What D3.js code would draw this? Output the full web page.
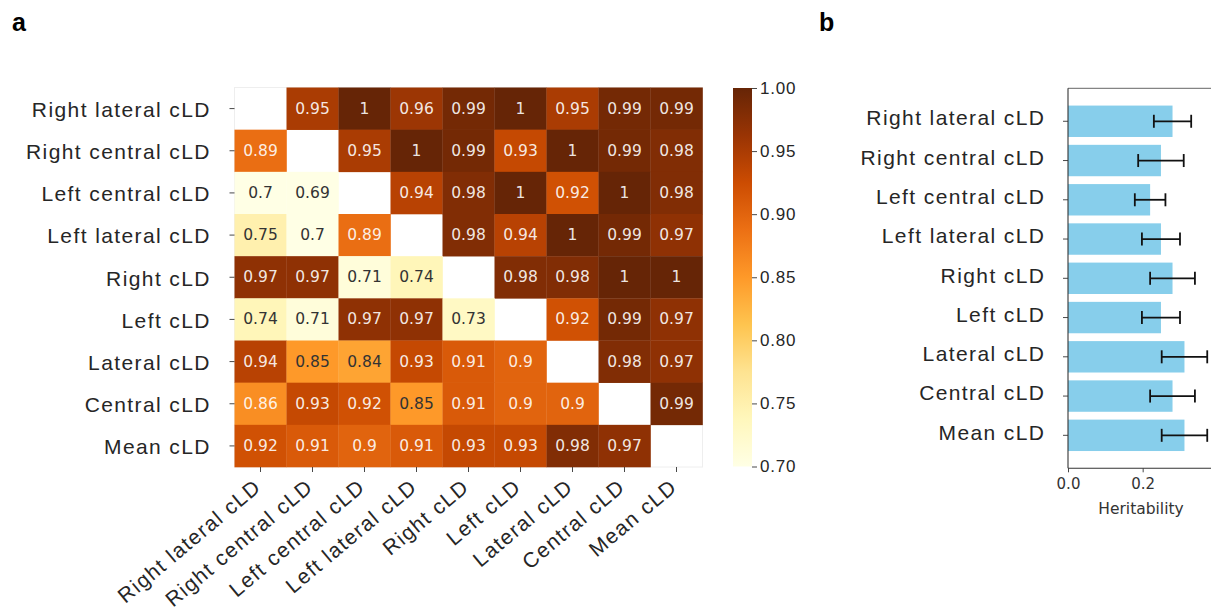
<!DOCTYPE html>
<html>
<head>
<meta charset="utf-8">
<script src="https://cdn.jsdelivr.net/npm/d3@7"></script>
<style>
  html, body { margin: 0; padding: 0; background: #fff; }
  svg { display: block; }
</style>
</head>
<body>
<svg id="chart" width="1211" height="612"></svg>
<script>
// ---------------- DATA ----------------
const categories = ["Right lateral cLD", "Right central cLD", "Left central cLD", "Left lateral cLD",
  "Right cLD", "Left cLD", "Lateral cLD", "Central cLD", "Mean cLD"];

// correlation matrix (rows top->bottom, columns left->right); null = diagonal (blank)
const corrRightLateral  = [null, 0.95, 1,    0.96, 0.99, 1,    0.95, 0.99, 0.99];
const corrRightCentral  = [0.89, null, 0.95, 1,    0.99, 0.93, 1,    0.99, 0.98];
const corrLeftCentral   = [0.7,  0.69, null, 0.94, 0.98, 1,    0.92, 1,    0.98];
const corrLeftLateral   = [0.75, 0.7,  0.89, null, 0.98, 0.94, 1,    0.99, 0.97];
const corrRight         = [0.97, 0.97, 0.71, 0.74, null, 0.98, 0.98, 1,    1   ];
const corrLeft          = [0.74, 0.71, 0.97, 0.97, 0.73, null, 0.92, 0.99, 0.97];
const corrLateral       = [0.94, 0.85, 0.84, 0.93, 0.91, 0.9,  null, 0.98, 0.97];
const corrCentral       = [0.86, 0.93, 0.92, 0.85, 0.91, 0.9,  0.9,  null, 0.99];
const corrMean          = [0.92, 0.91, 0.9,  0.91, 0.93, 0.93, 0.98, 0.97, null];
const corrRows = [corrRightLateral, corrRightCentral, corrLeftCentral, corrLeftLateral,
  corrRight, corrLeft, corrLateral, corrCentral, corrMean];

const colorbarTicks = [0.70, 0.75, 0.80, 0.85, 0.90, 0.95, 1.00];
const colorDomain = [0.7, 1.0];
const ylorbr = ["#ffffe5","#fff7bc","#fee391","#fec44f","#fe9929","#ec7014","#cc4c02","#993404","#662506"];

// heritability (panel b)
const heritability = [0.280, 0.249, 0.220, 0.249, 0.280, 0.249, 0.312, 0.280, 0.312];
const heritErr     = [0.050, 0.061, 0.041, 0.051, 0.060, 0.051, 0.061, 0.060, 0.061];
const heritTicks = [0.0, 0.2];

// ---------------- DRAW ----------------
const svg = d3.select("#chart");
const labelFont = "'Liberation Sans', Arial, Helvetica, sans-serif";
const numFont = "'DejaVu Sans', sans-serif";
const textCol = "#262626";

// panel labels
svg.append("text").attr("x", 12).attr("y", 31).text("a")
  .attr("font-family", labelFont).attr("font-weight", "bold").attr("font-size", 25).attr("fill", "#000");
svg.append("text").attr("x", 819).attr("y", 31).text("b")
  .attr("font-family", labelFont).attr("font-weight", "bold").attr("font-size", 25).attr("fill", "#000");

// ---- Heatmap ----
const hx = d3.scaleBand().domain(categories).range([234.5, 702.5]);
const hy = d3.scaleBand().domain(categories).range([87.5, 467]);
const stops = ylorbr.map((c, i) => colorDomain[0] + (colorDomain[1] - colorDomain[0]) * i / (ylorbr.length - 1));
const color = d3.scaleLinear().domain(stops).range(ylorbr).interpolate(d3.interpolateRgb).clamp(true);

function relLum(c) {
  const rgb = d3.rgb(c);
  const f = v => { v /= 255; return v <= 0.03928 ? v / 12.92 : Math.pow((v + 0.055) / 1.055, 2.4); };
  return 0.2126 * f(rgb.r) + 0.7152 * f(rgb.g) + 0.0722 * f(rgb.b);
}

const cells = [];
corrRows.forEach((row, i) => row.forEach((v, j) => {
  if (v !== null) cells.push({ r: categories[i], c: categories[j], v });
}));

const hm = svg.append("g");
hm.append("rect").attr("x", hx.range()[0]).attr("y", hy.range()[0])
  .attr("width", hx.range()[1] - hx.range()[0]).attr("height", hy.range()[1] - hy.range()[0])
  .attr("fill", "#fff").attr("stroke", "#eeeeee").attr("stroke-width", 1);

hm.selectAll("rect.cell").data(cells).join("rect").attr("class", "cell")
  .attr("x", d => hx(d.c)).attr("y", d => hy(d.r))
  .attr("width", hx.bandwidth() + 0.3).attr("height", hy.bandwidth() + 0.3)
  .attr("fill", d => color(d.v));

hm.selectAll("text.ann").data(cells).join("text").attr("class", "ann")
  .attr("x", d => hx(d.c) + hx.bandwidth() / 2)
  .attr("y", d => hy(d.r) + hy.bandwidth() / 2)
  .attr("text-anchor", "middle").attr("dominant-baseline", "central")
  .attr("font-family", numFont).attr("font-size", 15.5)
  .attr("fill", d => relLum(color(d.v)) > 0.408 ? "#333333" : "#ffffff")
  .attr("fill-opacity", d => relLum(color(d.v)) > 0.408 ? 1 : 0.9)
  .text(d => d3.format("")(d.v));

// y axis (heatmap)
const hyAxis = svg.append("g").attr("transform", `translate(${hx.range()[0]},0)`)
  .call(d3.axisLeft(hy).tickSize(5).tickPadding(20));
hyAxis.select(".domain").remove();
hyAxis.selectAll(".tick line").attr("stroke", "#333").attr("stroke-width", 0.9);
hyAxis.selectAll(".tick text").attr("font-family", labelFont).attr("font-size", 21)
  .attr("letter-spacing", "1.4px").attr("fill", textCol).attr("dx", "1.4").attr("dy", "0.4em");

// x axis (heatmap)
const hxAxis = svg.append("g").attr("transform", `translate(0,${hy.range()[1]})`)
  .call(d3.axisBottom(hx).tickSize(5));
hxAxis.select(".domain").remove();
hxAxis.selectAll(".tick line").attr("stroke", "#333").attr("stroke-width", 0.9);
hxAxis.selectAll(".tick text")
  .attr("font-family", labelFont).attr("font-size", 21).attr("letter-spacing", "1.4px")
  .attr("fill", textCol).attr("text-anchor", "end")
  .attr("x", 0).attr("y", 0).attr("dy", 0)
  .attr("transform", "translate(2,22) rotate(-40)");

// ---- Colorbar ----
const cbX = 733, cbW = 19;
const cy = d3.scaleLinear().domain(colorDomain).range([466.5, 88]);
const defs = svg.append("defs");
const grad = defs.append("linearGradient").attr("id", "cbgrad")
  .attr("x1", 0).attr("y1", 1).attr("x2", 0).attr("y2", 0);
grad.selectAll("stop").data(stops).join("stop")
  .attr("offset", (d, i) => i / (stops.length - 1))
  .attr("stop-color", d => color(d));
svg.append("rect").attr("x", cbX).attr("y", cy(1)).attr("width", cbW).attr("height", cy(0.7) - cy(1))
  .attr("fill", "url(#cbgrad)");
const cbAxis = svg.append("g").attr("transform", `translate(${cbX + cbW},0)`)
  .call(d3.axisRight(cy).tickValues(colorbarTicks).tickFormat(d3.format(".2f")).tickSize(5).tickPadding(3));
cbAxis.select(".domain").remove();
cbAxis.selectAll(".tick line").attr("stroke", "#333").attr("stroke-width", 0.9);
cbAxis.selectAll(".tick text").attr("font-family", labelFont).attr("font-size", 17)
  .attr("letter-spacing", "0.8px").attr("fill", textCol);

// ---- Panel b: bar chart ----
const bx = d3.scaleLinear().domain([0, 0.4]).range([1068, 1068 + 0.4 * 373.3]);
const by = d3.scaleBand().domain(categories).range([88.3, 468.3]).paddingInner(0.2).paddingOuter(0.44);
const bars = svg.append("g");
bars.selectAll("rect.bar").data(categories).join("rect").attr("class", "bar")
  .attr("x", bx(0)).attr("y", d => by(d))
  .attr("width", (d, i) => bx(heritability[i]) - bx(0)).attr("height", by.bandwidth())
  .attr("fill", "#87ceeb");
// error bars
const eb = bars.selectAll("g.err").data(categories).join("g").attr("class", "err")
  .attr("transform", d => `translate(0,${by(d) + by.bandwidth() / 2})`);
eb.append("line")
  .attr("x1", (d, i) => bx(heritability[i] - heritErr[i]))
  .attr("x2", (d, i) => bx(heritability[i] + heritErr[i]))
  .attr("y1", 0).attr("y2", 0).attr("stroke", "#111").attr("stroke-width", 1.8);
eb.append("line")
  .attr("x1", (d, i) => bx(heritability[i] - heritErr[i]))
  .attr("x2", (d, i) => bx(heritability[i] - heritErr[i]))
  .attr("y1", -6.5).attr("y2", 6.5).attr("stroke", "#111").attr("stroke-width", 1.8);
eb.append("line")
  .attr("x1", (d, i) => bx(heritability[i] + heritErr[i]))
  .attr("x2", (d, i) => bx(heritability[i] + heritErr[i]))
  .attr("y1", -6.5).attr("y2", 6.5).attr("stroke", "#111").attr("stroke-width", 1.8);

// frame
const fTop = 88.3, fBot = 468.3;
svg.append("line").attr("x1", bx(0)).attr("x2", 1211).attr("y1", fTop).attr("y2", fTop)
  .attr("stroke", "#555").attr("stroke-width", 0.9);
// axes
const byAxis = svg.append("g").attr("transform", `translate(${bx(0)},0)`)
  .call(d3.axisLeft(by).tickSize(5).tickPadding(19));
byAxis.select(".domain").attr("stroke", "#333").attr("stroke-width", 1.1)
  .attr("d", `M0,${fTop}V${fBot}`);
byAxis.selectAll(".tick line").attr("stroke", "#333").attr("stroke-width", 0.9);
byAxis.selectAll(".tick text").attr("font-family", labelFont).attr("font-size", 21)
  .attr("letter-spacing", "1.4px").attr("fill", textCol).attr("dx", "1.4").attr("dy", "0.2em");

const bxAxis = svg.append("g").attr("transform", `translate(0,${fBot})`)
  .call(d3.axisBottom(bx).tickValues(heritTicks).tickFormat(d3.format(".1f")).tickSize(4).tickPadding(6));
bxAxis.select(".domain").attr("stroke", "#333").attr("stroke-width", 1.1)
  .attr("d", `M${bx(0)},0H1211`);
bxAxis.selectAll(".tick line").attr("stroke", "#333").attr("stroke-width", 0.9);
bxAxis.selectAll(".tick text").attr("font-family", numFont).attr("font-size", 15)
  .attr("fill", "#333");

svg.append("text").attr("x", 1141).attr("y", 513.5).attr("text-anchor", "middle")
  .attr("font-family", numFont).attr("font-size", 15.5).attr("fill", "#333").text("Heritability");
</script>
</body>
</html>
